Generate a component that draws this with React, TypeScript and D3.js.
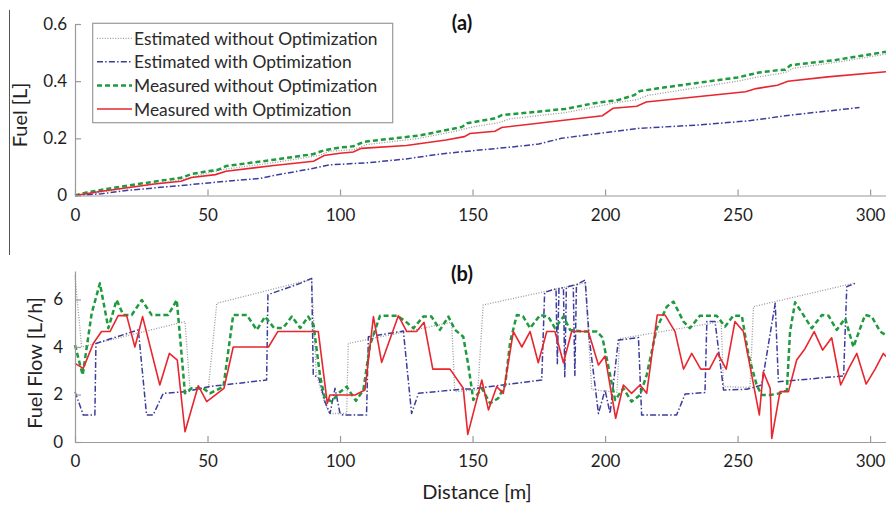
import React, { useEffect, useRef } from 'react';
import * as d3 from 'd3';

const FONT = 'Lato, "Open Sans", sans-serif';

// ---- tick labels / categories ----
const xTicks = [0, 50, 100, 150, 200, 250, 300];
const fuelTicks = [0, 0.2, 0.4, 0.6];
const flowTicks = [0, 2, 4, 6];
const legendLabels = [
  'Estimated without Optimization',
  'Estimated with Optimization',
  'Measured without Optimization',
  'Measured with Optimization',
];

// ---- panel (a): cumulative fuel [L] vs distance [m] ----
const fuelEstNoOptD = [0, 10, 40, 55, 75, 92, 96, 105, 110, 130, 145, 150, 160, 164, 185, 200, 204, 212, 216, 250, 258, 268, 271, 290, 306];
const fuelEstNoOptV = [0, 0.012, 0.055, 0.09, 0.115, 0.14, 0.155, 0.16, 0.178, 0.2, 0.228, 0.24, 0.255, 0.268, 0.29, 0.317, 0.325, 0.335, 0.35, 0.4, 0.415, 0.43, 0.445, 0.47, 0.495];

const fuelEstOptD = [0, 10, 20, 40, 55, 70, 75, 90, 96, 111, 125, 137.7, 145, 165, 175, 183.5, 198.6, 213, 236, 255, 268, 296];
const fuelEstOptV = [0, 0.006, 0.018, 0.035, 0.048, 0.06, 0.07, 0.095, 0.107, 0.115, 0.128, 0.145, 0.152, 0.17, 0.18, 0.2, 0.218, 0.235, 0.247, 0.262, 0.279, 0.308];

const fuelMeasNoOptD = [0, 5, 20, 40, 44, 50, 54, 57, 75, 90, 94, 100, 105, 109, 130, 146, 148, 158.5, 161, 185, 196, 200, 205, 211, 213, 220, 250, 258, 265, 268, 270, 287, 306];
const fuelMeasNoOptV = [0, 0.012, 0.035, 0.062, 0.075, 0.085, 0.09, 0.103, 0.125, 0.145, 0.158, 0.168, 0.172, 0.188, 0.21, 0.24, 0.253, 0.27, 0.281, 0.303, 0.323, 0.328, 0.334, 0.351, 0.365, 0.375, 0.413, 0.43, 0.438, 0.44, 0.456, 0.474, 0.503];

const fuelMeasOptD = [0, 10, 30, 40, 44, 53, 57, 75, 90, 94, 100, 105, 108, 125, 140, 146.9, 149, 158.5, 161, 199, 203, 212, 215.5, 253, 257, 265, 269, 284, 306];
const fuelMeasOptV = [0, 0.015, 0.04, 0.05, 0.063, 0.073, 0.085, 0.105, 0.12, 0.14, 0.148, 0.152, 0.165, 0.175, 0.194, 0.206, 0.217, 0.225, 0.238, 0.279, 0.305, 0.312, 0.327, 0.363, 0.374, 0.386, 0.4, 0.415, 0.433];

// ---- panel (b): fuel flow [L/h] vs distance [m] ----
const flowEstNoOptD = [0, 2.5, 41.5, 43.4, 50.3, 53.5, 89.3, 91, 94, 96, 102.5, 103.1, 142.1, 143.3, 152, 154, 192.5, 195, 204.5, 205.5, 243.8, 244.7, 254.7, 256, 293.7];
const flowEstNoOptV = [7.0, 4.0, 5.07, 2.2, 2.26, 5.84, 6.85, 2.9, 1.7, 1.2, 1.2, 4.15, 5.04, 2.12, 2.2, 5.77, 6.7, 2.2, 2.1, 4.35, 5.07, 2.33, 2.3, 5.7, 6.68];

const flowEstOptD = [0, 3.1, 7.5, 7.9, 23.9, 27, 29.5, 33.3, 42.1, 50.3, 72.3, 72.8, 84.9, 89.3, 89.9, 92, 94.3, 96.2, 98.1, 100, 101, 110, 110.7, 123.9, 127, 129.6, 146.5, 149, 176.1, 177.2, 181.5, 182, 182.6, 184.3, 184.8, 185.4, 188, 188.6, 189.2, 192.5, 194, 197.5, 200, 201.9, 205, 212.6, 213.8, 227, 230.2, 237.7, 238.4, 241.5, 244.7, 253.5, 259.1, 264.2, 265.4, 290, 291.2, 294.3];
const flowEstOptV = [2.12, 1.14, 1.14, 4.15, 4.72, 1.14, 1.14, 2.05, 2.12, 2.33, 2.61, 6.2, 6.68, 6.89, 2.82, 2.7, 1.7, 1.2, 2.26, 1.2, 1.14, 1.14, 4.43, 4.67, 1.2, 2.05, 2.23, 2.23, 2.61, 6.3, 6.45, 3.3, 6.47, 6.5, 2.75, 6.52, 6.6, 2.8, 6.62, 6.82, 4.4, 1.2, 2.19, 1.2, 4.29, 4.4, 1.14, 1.14, 2.02, 2.08, 5.07, 5.07, 2.19, 2.22, 2.4, 5.84, 2.54, 2.78, 6.54, 6.68];

const flowMeasNoOptD = [0, 2.9, 6.3, 9.4, 12.6, 15.7, 18.2, 21.4, 25.2, 28.9, 35.2, 38.4, 41.5, 44, 48.4, 50.9, 56, 59.7, 64.8, 68.6, 71.7, 75.1, 78.5, 81.8, 85, 88, 90, 92.5, 94.3, 96.9, 99.4, 102.5, 106, 108.8, 111.3, 115.1, 121.4, 124.5, 127.7, 131.4, 134.5, 137.7, 140.9, 143.4, 146.5, 148.4, 150.3, 153.5, 156.6, 159.7, 162.3, 164.2, 166.7, 169, 171.7, 175.5, 178.6, 181.1, 184.3, 186.8, 191.8, 196.9, 199, 201.9, 203.8, 206.9, 210, 213.2, 215.7, 219.5, 223.3, 225.8, 229.6, 232, 235.8, 242.1, 245.3, 248.4, 251.6, 254.1, 257.2, 259.1, 262.3, 266, 268.6, 269.8, 271.7, 274.8, 278, 281.8, 284.3, 287.4, 290.6, 293.7, 298.1, 300.6, 303.8, 306];
const flowMeasNoOptV = [4.08, 2.82, 5.42, 6.68, 4.79, 5.98, 5.35, 5.35, 5.98, 5.35, 5.35, 5.98, 2.05, 2.26, 2.26, 2.05, 2.33, 5.35, 5.35, 4.72, 5.28, 4.8, 4.8, 5.28, 4.8, 5.28, 4.93, 2.75, 1.84, 1.7, 2.05, 2.33, 1.73, 2.19, 4.08, 5.32, 5.32, 5.1, 4.79, 5.28, 5.28, 4.72, 5.28, 4.72, 4.43, 3.24, 1.77, 2.26, 1.63, 1.84, 2.4, 4.22, 5.35, 5.3, 4.79, 5.35, 5.28, 4.79, 5.28, 4.72, 4.65, 4.65, 4.4, 2.82, 1.77, 2.26, 1.7, 1.98, 2.82, 4.79, 5.7, 5.91, 5.07, 4.79, 5.32, 5.32, 4.86, 5.32, 5.32, 3.66, 2.4, 1.98, 1.98, 2.05, 2.19, 4.65, 5.88, 5.35, 4.79, 5.35, 5.32, 4.72, 5.2, 4.0, 5.35, 5.28, 4.65, 4.5];

const flowMeasOptD = [0, 3.1, 6.9, 10, 13.2, 16.3, 19.5, 22.6, 25.5, 32, 35.6, 38.6, 41.5, 46.5, 49.7, 56.2, 59.7, 73, 76.5, 91.8, 95.2, 96.2, 105.7, 109.4, 112.6, 115.7, 122, 125.2, 128.9, 131.7, 135, 141.5, 146.5, 148.2, 153.5, 156, 159.1, 161.6, 165.4, 168.6, 171.7, 174.8, 178, 181.1, 184.3, 187.4, 193.7, 197.5, 200, 204, 206.9, 210, 213.2, 215.7, 219.7, 222.6, 226.4, 229.6, 232.7, 236.1, 239.4, 242.5, 245.7, 249, 252.2, 258.2, 259.7, 262.3, 262.9, 266, 269.2, 272.3, 275.5, 278.9, 282.1, 285.5, 288.9, 291.8, 295, 298.5, 301.9, 305, 306];
const flowMeasOptV = [3.31, 3.1, 4.15, 4.65, 4.65, 5.32, 5.32, 4.0, 5.28, 2.4, 3.73, 3.45, 0.43, 2.37, 1.7, 2.26, 4.0, 4.0, 4.65, 4.65, 1.63, 1.98, 1.98, 2.19, 5.28, 3.35, 5.32, 4.65, 4.65, 5.04, 3.07, 3.07, 2.26, 0.32, 2.61, 1.35, 2.33, 2.05, 4.65, 4.0, 4.65, 3.34, 4.65, 4.65, 3.34, 4.65, 4.65, 3.24, 3.62, 1.0, 2.4, 2.05, 2.4, 2.05, 5.35, 5.35, 4.65, 3.07, 3.73, 3.07, 3.07, 3.73, 3.07, 5.07, 4.65, 1.14, 2.96, 2.26, 0.15, 2.12, 2.12, 3.45, 3.94, 4.65, 3.87, 4.39, 2.4, 3.07, 3.73, 2.44, 3.07, 3.73, 3.6];

const STYLES = [
  { stroke: '#9a9a9a', width: 1.3, dash: '1,1.6' },
  { stroke: '#3c3c9c', width: 1.5, dash: '6,2.2,1.5,2.2' },
  { stroke: '#1f9a3e', width: 2.5, dash: '5,3' },
  { stroke: '#e8262f', width: 1.6, dash: undefined as string | undefined },
];

const W = 886;
const H = 505;

export default function App() {
  const x = d3.scaleLinear().domain([0, 306]).range([75, 886]);
  const yTop = d3.scaleLinear().domain([0, 0.6]).range([195.5, 24]);
  const yBot = d3.scaleLinear().domain([0, 7.2]).range([442, 271]);

  const topSeries = [
    d3.zip(fuelEstNoOptD, fuelEstNoOptV),
    d3.zip(fuelEstOptD, fuelEstOptV),
    d3.zip(fuelMeasNoOptD, fuelMeasNoOptV),
    d3.zip(fuelMeasOptD, fuelMeasOptV),
  ];
  const botSeries = [
    d3.zip(flowEstNoOptD, flowEstNoOptV),
    d3.zip(flowEstOptD, flowEstOptV),
    d3.zip(flowMeasNoOptD, flowMeasNoOptV),
    d3.zip(flowMeasOptD, flowMeasOptV),
  ];
  const lineTop = d3.line<number[]>().x((d) => x(d[0])).y((d) => yTop(d[1]));
  const lineBot = d3.line<number[]>().x((d) => x(d[0])).y((d) => yBot(d[1]));

  const axTopX = useRef<SVGGElement>(null);
  const axTopY = useRef<SVGGElement>(null);
  const axBotX = useRef<SVGGElement>(null);
  const axBotY = useRef<SVGGElement>(null);

  useEffect(() => {
    const style = (g: any) => {
      g.attr('font-family', FONT).attr('font-size', 17);
      g.selectAll('.domain').attr('stroke', '#9a9a9a').attr('stroke-width', 1.2);
      g.selectAll('.tick line').attr('stroke', '#9a9a9a').attr('stroke-width', 1.2);
      g.selectAll('.tick text').attr('fill', '#1e1e1e');
    };
    d3.select(axTopX.current!)
      .call(d3.axisBottom(x).tickValues(xTicks).tickSizeInner(-6).tickSizeOuter(0).tickPadding(13).tickFormat(d3.format('d')) as any)
      .call(style);
    d3.select(axBotX.current!)
      .call(d3.axisBottom(x).tickValues(xTicks).tickSizeInner(-6).tickSizeOuter(0).tickPadding(13).tickFormat(d3.format('d')) as any)
      .call(style);
    d3.select(axTopY.current!)
      .call(d3.axisLeft(yTop).tickValues(fuelTicks).tickSizeInner(-6).tickSizeOuter(0).tickPadding(8).tickFormat((d: any) => (d === 0 ? '0' : d3.format('.1f')(d))) as any)
      .call(style);
    d3.select(axBotY.current!)
      .call(d3.axisLeft(yBot).tickValues(flowTicks).tickSizeInner(-6).tickSizeOuter(0).tickPadding(12).tickFormat(d3.format('d')) as any)
      .call(style);
  }, []);

  const legendRows = [38.3, 61.7, 85.5, 109];

  return (
    <svg width={W} height={H} style={{ position: 'absolute', left: 0, top: 0, background: '#fff' }} fontFamily={FONT}>
      <rect x={0} y={0} width={W} height={H} fill="#fff" />
      <line x1={9.5} x2={9.5} y1={10} y2={255} stroke="#555" strokeWidth={1} />

      {/* panel (a) */}
      {topSeries.map((s, i) => (
        <path key={'t' + i} d={lineTop(s as number[][]) || ''} fill="none" stroke={STYLES[i].stroke} strokeWidth={STYLES[i].width} strokeDasharray={STYLES[i].dash} />
      ))}
      <g ref={axTopX} transform={`translate(0,${yTop(0)})`} />
      <g ref={axTopY} transform={`translate(${x(0)},0)`} />
      <text x={462} y={30} textAnchor="middle" fontSize={20} fontWeight="bold" fill="#111">(a)</text>
      <text transform={`translate(19,115) rotate(-90)`} textAnchor="middle" dominantBaseline="central" fontSize={20} fill="#222">Fuel [L]</text>

      {/* legend */}
      <rect x={92.7} y={23.3} width={300} height={99.4} fill="#fff" stroke="#9a9a9a" strokeWidth={1.2} />
      {legendLabels.map((lab, i) => (
        <g key={'l' + i}>
          <line x1={97} x2={132} y1={legendRows[i]} y2={legendRows[i]} stroke={STYLES[i].stroke} strokeWidth={STYLES[i].width} strokeDasharray={STYLES[i].dash} />
          <text x={134} y={legendRows[i]} dominantBaseline="central" fontSize={17.4} fill="#2a2a2a">{lab}</text>
        </g>
      ))}

      {/* panel (b) */}
      {botSeries.map((s, i) => (
        <path key={'b' + i} d={lineBot(s as number[][]) || ''} fill="none" stroke={STYLES[i].stroke} strokeWidth={STYLES[i].width} strokeDasharray={STYLES[i].dash} strokeLinejoin="round" />
      ))}
      <g ref={axBotX} transform={`translate(0,${yBot(0)})`} />
      <g ref={axBotY} transform={`translate(${x(0)},0)`} />
      <text x={462} y={281} textAnchor="middle" fontSize={20} fontWeight="bold" fill="#111">(b)</text>
      <text transform={`translate(34,363) rotate(-90)`} textAnchor="middle" dominantBaseline="central" fontSize={20} fill="#222">Fuel Flow [L/h]</text>
      <text x={477} y={499} textAnchor="middle" fontSize={20} fill="#222">Distance [m]</text>
    </svg>
  );
}
